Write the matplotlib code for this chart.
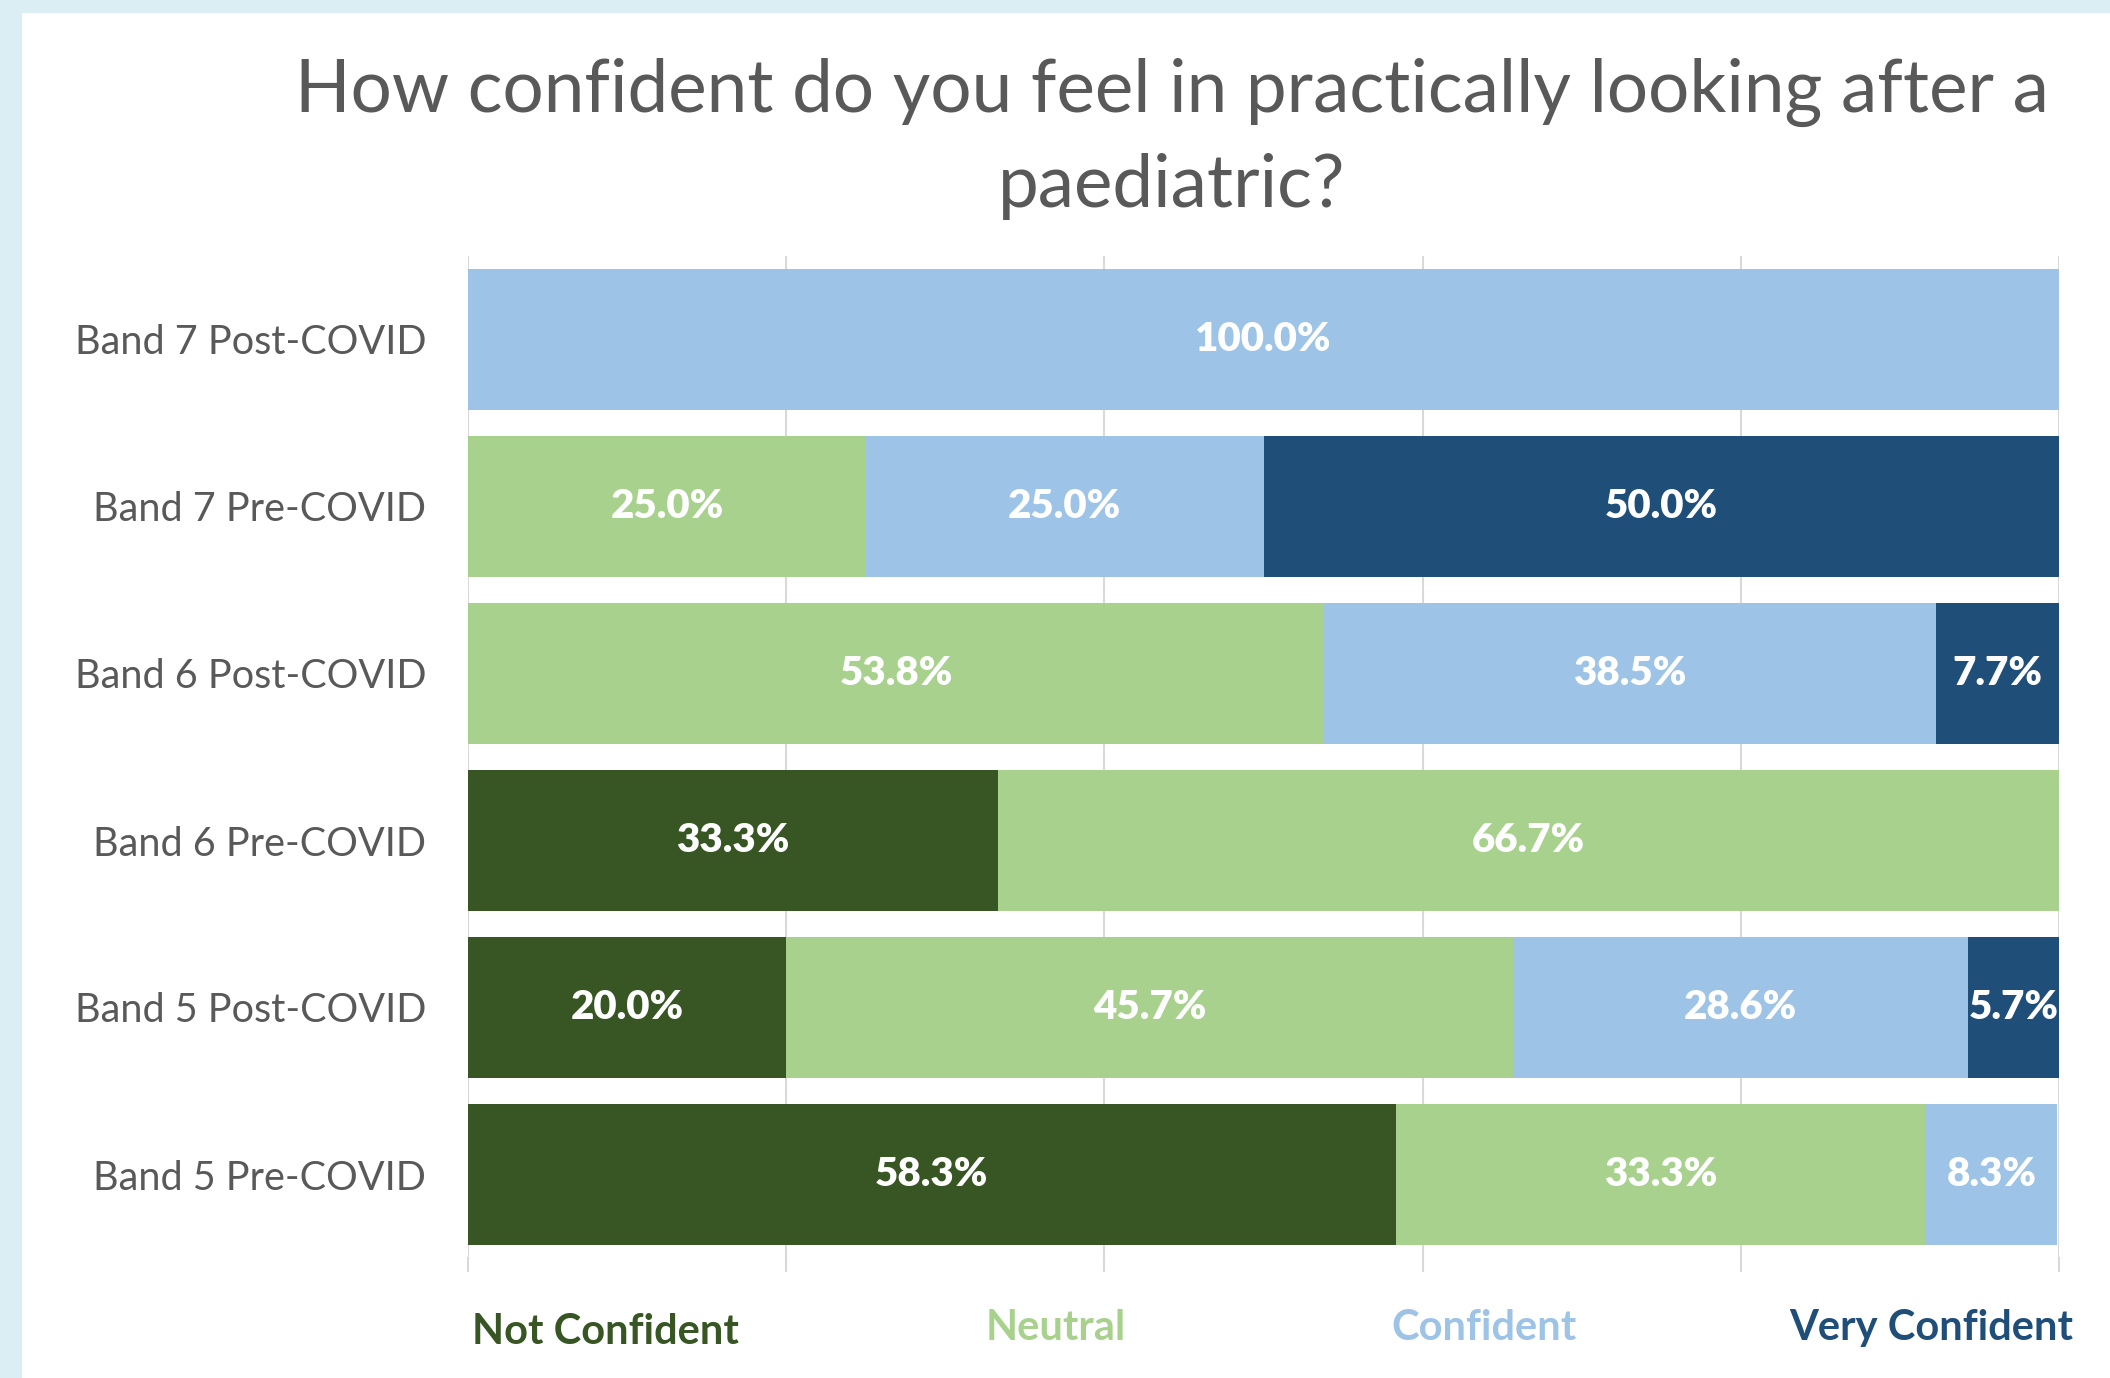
import matplotlib
matplotlib.use('Agg')
import matplotlib.pyplot as plt
import numpy as np

# --- datos ---
categorias = ['Band 5 Pre-COVID', 'Band 5 Post-COVID', 'Band 6 Pre-COVID',
              'Band 6 Post-COVID', 'Band 7 Pre-COVID', 'Band 7 Post-COVID']
series = ['Not Confident', 'Neutral', 'Confident', 'Very Confident']
not_confident = [58.3, 20.0, 33.3, 0, 0, 0]
neutral = [33.3, 45.7, 66.7, 53.8, 25.0, 0]
confident = [8.3, 28.6, 0, 38.5, 25.0, 100.0]
very_confident = [0, 5.7, 0, 7.7, 50.0, 0]
titulo = ['How confident do you feel in practically looking after a', 'paediatric?']

colores = ['#375623', '#A9D18E', '#9DC3E6', '#1F4E79']

plt.rcParams['font.family'] = ['Lato', 'DejaVu Sans']

fig = plt.figure(figsize=(21.1, 13.78), dpi=100)
fig.patch.set_facecolor('#DAEEF3')
# fondo blanco del grafico
fig.patches.append(plt.Rectangle((22 / 2110, 0), 1, 1 - 13 / 1378, transform=fig.transFigure,
                                 facecolor='white', edgecolor='none', zorder=-5))

ax = fig.add_axes([468 / 2110, 120 / 1378, (2059 - 468) / 2110, (1122 - 120) / 1378])
ax.set_facecolor('white')

y = np.arange(len(categorias))
izq = np.zeros(len(categorias))
for nombre, valores, col in zip(series, [not_confident, neutral, confident, very_confident], colores):
    valores = np.array(valores, dtype=float)
    ax.barh(y, valores, left=izq, height=0.85, color=col, edgecolor='none', zorder=2, label=nombre)
    for yi, v, l in zip(y, valores, izq):
        if v > 0:
            ax.text(l + v / 2, yi, f'{v:.1f}%', ha='center', va='center', color='white',
                    fontsize=29, fontweight='heavy', zorder=3)
    izq += valores

ax.set_xlim(0, 100)
ax.set_ylim(-0.5, len(categorias) - 0.5)
ax.set_xticks([0, 20, 40, 60, 80, 100])
ax.xaxis.grid(True, color='#D9D9D9', linewidth=1.5, zorder=1)
ax.set_axisbelow(True)
ax.tick_params(axis='x', length=0, labelbottom=False)
ax.tick_params(axis='y', length=0, pad=30, labelsize=28.5, labelcolor='#595959')
ax.set_yticks(y)
ax.set_yticklabels(categorias)
for s in ax.spines.values():
    s.set_visible(False)

# lineas de rejilla que bajan un poco bajo las barras
for xv in [0, 20, 40, 60, 80, 100]:
    ax.plot([xv, xv], [-0.5, -0.58], color='#D9D9D9', linewidth=1.5, clip_on=False)

# titulo
fig.text(1172 / 2110, 1 - 92 / 1378, titulo[0], ha='center', va='center', fontsize=52.5, color='#595959')
fig.text(1172 / 2110, 1 - 187 / 1378, titulo[1], ha='center', va='center', fontsize=52.5, color='#595959')

# leyenda solo texto
leyenda_x = [605, 1056, 1484, 1931]
leyenda_y = [1332, 1328, 1328, 1328]
for nombre, col, lx, ly in zip(series, colores, leyenda_x, leyenda_y):
    fig.text(lx / 2110, 1 - ly / 1378, nombre, ha='center', va='center', fontsize=30,
             fontweight='bold', color=col)

plt.savefig('out.png', dpi=100, facecolor=fig.get_facecolor())
